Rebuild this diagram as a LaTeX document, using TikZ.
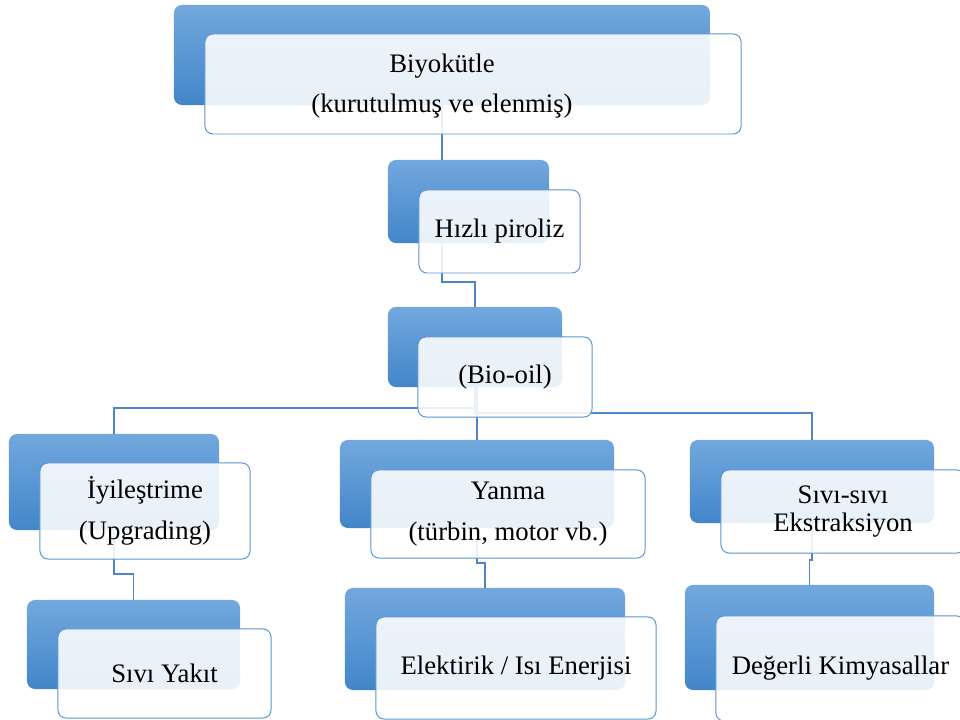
\documentclass[tikz,border=0pt]{standalone}
\usepackage{fontspec}
\setmainfont{Liberation Serif}
\usetikzlibrary{calc}
\definecolor{boxtop}{HTML}{72A8DD}
\definecolor{boxbot}{HTML}{4286CA}
\definecolor{edgeblue}{HTML}{5B95D2}
\definecolor{linkblue}{HTML}{4F86C4}
\begin{document}
\begin{tikzpicture}[
            x={(0.025cm,0cm)},
            y={(0cm,-0.025cm)},
            dark/.style={rectangle, rounded corners=0.2cm, inner sep=0pt, outer sep=0pt,
                top color=boxtop, bottom color=boxbot, draw=none},
            lite/.style={rectangle, rounded corners=0.2cm, inner sep=0pt, outer sep=0pt,
                draw=edgeblue, line width=0.7pt, fill=white, fill opacity=0.88, text opacity=1,
                align=center, font=\fontsize{19}{29}\selectfont},
            link/.style={draw=linkblue, line width=0.8pt}
        ]
        \useasboundingbox (0,0) rectangle (960,720);
        \clip (0,0) rectangle (960,720);

        % back boxes
        \node[dark, minimum width=13.4cm, minimum height=2.5cm] (biyoD) at (442,55) {};
        \node[dark, minimum width=4.025cm, minimum height=2.075cm] (pirD) at (468.5,201.5) {};
        \node[dark, minimum width=4.35cm, minimum height=2cm] (bioD) at (475,347) {};
        \node[dark, minimum width=5.25cm, minimum height=2.4cm] (iyiD) at (114,482) {};
        \node[dark, minimum width=6.85cm, minimum height=2.2cm] (yanD) at (477,484) {};
        \node[dark, minimum width=6.1cm, minimum height=2.075cm] (sivD) at (812,481.5) {};
        \node[dark, minimum width=5.325cm, minimum height=2.225cm] (yakD) at (133.5,644.5) {};
        \node[dark, minimum width=7cm, minimum height=2.55cm] (eleD) at (485,639) {};
        \node[dark, minimum width=6.225cm, minimum height=2.625cm] (degD) at (809.5,637.5) {};

        % connectors
        \draw[link] (biyoD.south) -- (biyoD.south |- pirD.north);
        \draw[link] (biyoD.south |- pirD.south) -- ++(0,39) -| (bioD.north);
        \draw[link] (bioD.south) -- ++(0,21) -| (iyiD.north);
        \draw[link] (yanD.north |- bioD.south) -- (yanD.north);
        \draw[link] (bioD.south) -- ++(0,26) -| (sivD.north);
        \draw[link] (iyiD.south) -- ++(0,44) -| (yakD.north);
        \draw[link] (yanD.south) -- ++(0,35) -| (eleD.north);
        \draw[link] (sivD.south) -- ++(0,37) -| (degD.north);

        % front boxes
        \node[lite, minimum width=13.4cm, minimum height=2.5cm] (biyoL) at ($(biyoD)+(31,29)$) {};
        \node[font=\fontsize{19}{29}\selectfont, align=center] (biyoT) at ($(biyoD |- biyoL)+(0,2)$) {Biyokütle\\(kurutulmuş ve elenmiş)};
        \node[lite, minimum width=4.025cm, minimum height=2.075cm] (pirL) at ($(pirD)+(31,30)$) {Hızlı piroliz};
        \node[lite, minimum width=4.35cm, minimum height=2cm] (bioL) at ($(bioD)+(30,30)$) {(Bio-oil)};
        \node[lite, minimum width=5.25cm, minimum height=2.4cm] (iyiL) at ($(iyiD)+(31,29)$) {İyileştrime\\(Upgrading)};
        \node[lite, minimum width=6.85cm, minimum height=2.2cm] (yanL) at ($(yanD)+(31,30)$) {Yanma\\(türbin, motor vb.)};
        \node[lite, minimum width=6.1cm, minimum height=2.075cm, font=\fontsize{19}{20.5}\selectfont] (sivL) at ($(sivD)+(31,30)$) {Sıvı-sıvı\\Ekstraksiyon};
        \node[lite, minimum width=5.325cm, minimum height=2.225cm] (yakL) at ($(yakD)+(31,29)$) {Sıvı Yakıt};
        \node[lite, minimum width=7cm, minimum height=2.55cm] (eleL) at ($(eleD)+(31,29)$) {Elektirik / Isı Enerjisi};
        \node[lite, minimum width=6.225cm, minimum height=2.625cm] (degL) at ($(degD)+(31,31)$) {Değerli Kimyasallar};
    \end{tikzpicture}
\end{document}
